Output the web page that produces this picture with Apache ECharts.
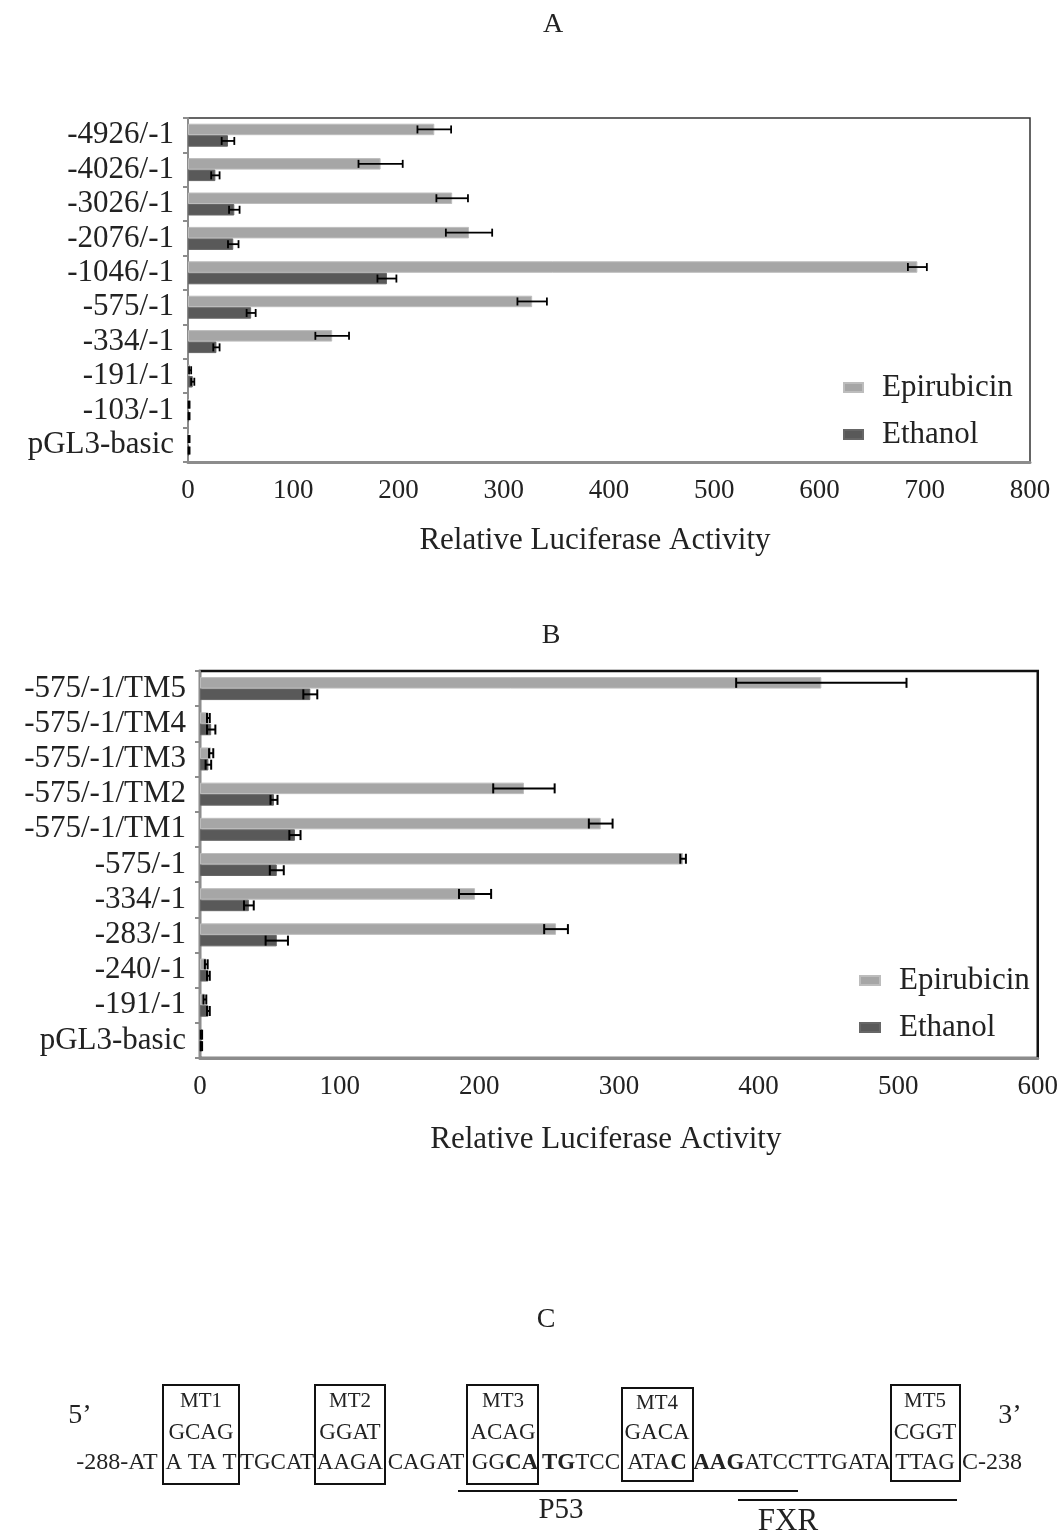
<!DOCTYPE html>
<html><head><meta charset="utf-8">
<script src="https://cdn.jsdelivr.net/npm/echarts@6/dist/echarts.min.js"></script>
<style>html,body{margin:0;padding:0;background:#fff}#c{width:1061px;height:1533px}</style>
</head><body><div id="c"></div>
<script>
// ---- Data ----
const categoriesA = ['-4926/-1','-4026/-1','-3026/-1','-2076/-1','-1046/-1','-575/-1','-334/-1','-191/-1','-103/-1','pGL3-basic'];
const epiA    = [234, 183, 251, 267, 693, 327, 137, 2, 1, 1];
const epiErrA = [16, 21, 15, 22, 9, 14, 16, 1, 0.5, 0.5];
const ethA    = [38, 26, 44, 43, 189, 60, 27, 4.5, 1, 1];
const ethErrA = [6, 4, 5, 5, 9, 4.3, 3, 1.5, 0.5, 0.5];
const ticksA  = [0, 800, 100];

const categoriesB = ['-575/-1/TM5','-575/-1/TM4','-575/-1/TM3','-575/-1/TM2','-575/-1/TM1','-575/-1','-334/-1','-283/-1','-240/-1','-191/-1','pGL3-basic'];
const epiB    = [445, 6, 8, 232, 287, 346, 197, 255, 4.5, 3.5, 1];
const epiErrB = [61, 1, 1.5, 22, 8.5, 2, 11.5, 8.5, 1, 1, 0.5];
const ethB    = [79, 8, 6, 53, 68, 55, 35, 55, 6, 6, 1];
const ethErrB = [5, 3, 2, 2.5, 4, 5, 3.5, 8, 1, 1, 0.5];
const ticksB  = [0, 600, 100];

const seriesNames = ['Epirubicin', 'Ethanol'];

// ---- Styling ----
const FONT = '"Liberation Serif", "Times New Roman", serif';
const TXT = '#222';
const EPI_COLOR = '#a6a6a6';
const ETH_COLOR = '#595959';
const BAR = 11.5;

function errSeries(idx, vals, errs, sign, cap, lw) {
  return {
    type: 'custom', xAxisIndex: idx, yAxisIndex: idx, silent: true, z: 10,
    data: vals.map((v, i) => [v, i, errs[i]]),
    encode: { x: 0, y: 1 },
    renderItem: function (params, api) {
      const v = api.value(0), i = api.value(1), e = api.value(2);
      const a = api.coord([Math.max(0, v - e), i]);
      const b = api.coord([v + e, i]);
      const y = a[1] + sign * BAR / 2;
      const st = { stroke: '#000', lineWidth: lw };
      return { type: 'group', children: [
        { type: 'line', shape: { x1: a[0], y1: y, x2: b[0], y2: y }, style: st },
        { type: 'line', shape: { x1: a[0], y1: y - cap, x2: a[0], y2: y + cap }, style: st },
        { type: 'line', shape: { x1: b[0], y1: y - cap, x2: b[0], y2: y + cap }, style: st }
      ]};
    }
  };
}

function xAxisCfg(idx, t, nameGap, shift) {
  return {
    type: 'value', gridIndex: idx, min: t[0], max: t[1], interval: t[2],
    name: 'Relative Luciferase Activity', nameLocation: 'middle', nameGap: nameGap,
    nameTextStyle: { fontFamily: FONT, fontSize: 31, color: TXT, padding: [0, shift, 0, 0] },
    axisLine: { show: true, lineStyle: { color: '#8c8c8c', width: 3 } },
    axisTick: { show: false }, splitLine: { show: false },
    axisLabel: { fontFamily: FONT, fontSize: 27, color: TXT, margin: 15 }
  };
}
function yAxisCfg(idx, cats) {
  return {
    type: 'category', gridIndex: idx, data: cats, inverse: true,
    axisLine: { show: true, lineStyle: { color: '#8c8c8c', width: 2 } },
    axisTick: { show: true, length: 5, lineStyle: { color: '#8c8c8c', width: 2 } },
    axisLabel: { interval: 0, fontFamily: FONT, fontSize: 31, color: TXT, margin: 14 }
  };
}
function barSeries(idx, name, vals, color, border) {
  return {
    type: 'bar', name: name, xAxisIndex: idx, yAxisIndex: idx, data: vals,
    barWidth: BAR, barGap: '0%',
    itemStyle: { color: color, borderColor: border, borderWidth: 1 }
  };
}

const rich = { b: { fontWeight: 'bold', fontSize: 23, fontFamily: FONT, fill: TXT, color: TXT } };
function T(x, y, text, size, opts) {
  return Object.assign({ type: 'text', x: x, y: y, z: 100,
    style: { text: text, font: size + 'px ' + FONT, fill: TXT, align: 'center', verticalAlign: 'middle', rich: rich } }, opts || {});
}
function box(x1, y1, x2, y2) {
  return { type: 'rect', z: 100, shape: { x: x1, y: y1, width: x2 - x1, height: y2 - y1 },
    style: { fill: 'none', stroke: '#111', lineWidth: 2 } };
}
function hline(x1, x2, y) {
  return { type: 'line', z: 100, shape: { x1: x1, y1: y, x2: x2, y2: y }, style: { stroke: '#111', lineWidth: 2 } };
}

const graphics = [
  T(553, 25, 'A', 28), T(551, 636, 'B', 28), T(546, 1320, 'C', 28),
  T(80, 1416, '5\u2019', 28), T(1010, 1416, '3\u2019', 28),
  // boxes
  box(163, 1385, 239, 1484), box(315, 1385, 385, 1484), box(467, 1385, 538, 1484),
  box(622, 1388, 693, 1481), box(891, 1385, 960, 1481),
  T(201, 1401, 'MT1', 21), T(201, 1433, 'GCAG', 23),
  T(350, 1401, 'MT2', 21), T(350, 1433, 'GGAT', 23),
  T(503, 1401, 'MT3', 21), T(503, 1433, 'ACAG', 23),
  T(657, 1403, 'MT4', 21), T(657, 1433, 'GACA', 23),
  T(925, 1401, 'MT5', 21), T(925, 1433, 'CGGT', 23),
  // sequence
  T(117, 1463, '-288-AT', 24), T(201, 1463, 'A TA T', 23), T(277, 1463, 'TGCAT', 23),
  T(350, 1463, 'AAGA', 23), T(426, 1463, 'CAGAT', 23), T(505, 1463, 'GG{b|CA}', 23),
  T(581, 1463, '{b|TG}TCC', 23), T(657, 1463, 'ATA{b|C}', 23),
  T(792, 1463, '{b|AAG}ATCCTTGATA', 23), T(925, 1463, 'TTAG', 23), T(992, 1463, 'C-238', 24),
  hline(458, 798, 1491), hline(738, 957, 1500),
  T(561, 1510, 'P53', 29), T(788, 1522, 'FXR', 31)
];

const legendText = { fontFamily: FONT, fontSize: 31, color: TXT, lineHeight: 30, padding: [0, 0, 0, 14] };

const option = {
  animation: false,
  backgroundColor: '#fff',
  grid: [
    { left: 188, top: 118, width: 842, height: 344, show: true, borderColor: '#333', borderWidth: 1.5, backgroundColor: 'transparent' },
    { left: 200, top: 671, width: 840, height: 387, show: true, borderColor: '#111', borderWidth: 2.5, backgroundColor: 'transparent' }
  ],
  xAxis: [xAxisCfg(0, ticksA, 63, 28), xAxisCfg(1, ticksB, 66, 26)],
  yAxis: [yAxisCfg(0, categoriesA), yAxisCfg(1, categoriesB)],
  legend: [
    { data: seriesNames, orient: 'vertical', left: 838, top: 367, itemWidth: 19, itemHeight: 9, itemGap: 16, icon: 'rect', textStyle: legendText },
    { data: seriesNames, orient: 'vertical', left: 854, top: 960, itemWidth: 20, itemHeight: 9, itemGap: 16, icon: 'rect', textStyle: legendText }
  ],
  series: [
    barSeries(0, seriesNames[0], epiA, EPI_COLOR, '#bdbdbd'),
    barSeries(0, seriesNames[1], ethA, ETH_COLOR, '#666'),
    barSeries(1, seriesNames[0], epiB, EPI_COLOR, '#bdbdbd'),
    barSeries(1, seriesNames[1], ethB, ETH_COLOR, '#666'),
    errSeries(0, epiA, epiErrA, -1, 4, 1.8),
    errSeries(0, ethA, ethErrA, 1, 4, 1.8),
    errSeries(1, epiB, epiErrB, -1, 5, 2),
    errSeries(1, ethB, ethErrB, 1, 5, 2)
  ],
  graphic: graphics
};

const chart = echarts.init(document.getElementById('c'), null, { renderer: 'canvas' });
chart.setOption(option);
</script>
</body></html>
